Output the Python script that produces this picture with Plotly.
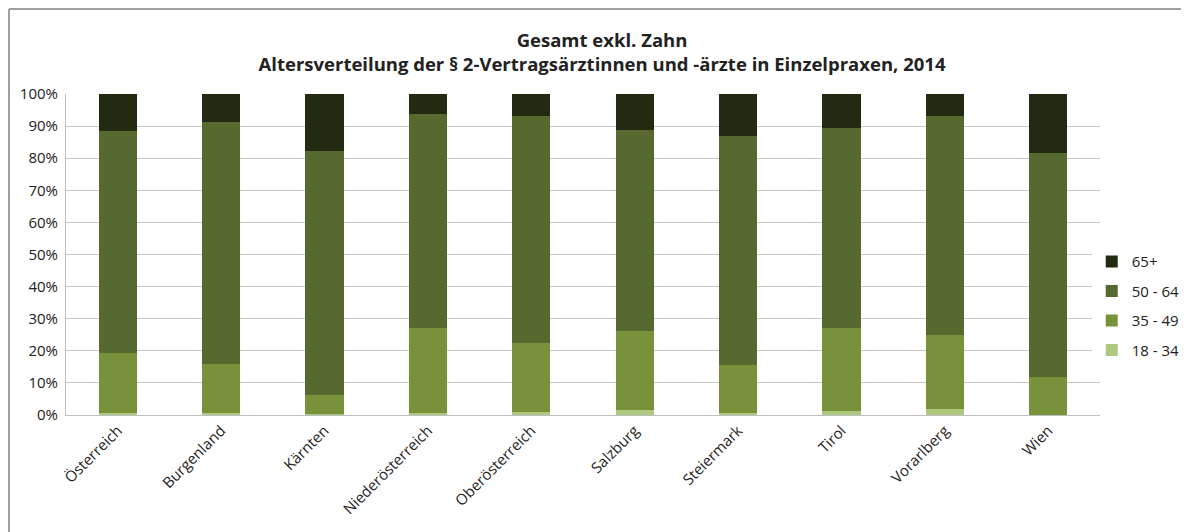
import plotly.graph_objects as go

regions = ["Österreich", "Burgenland", "Kärnten", "Niederösterreich", "Oberösterreich",
           "Salzburg", "Steiermark", "Tirol", "Vorarlberg", "Wien"]

age_18_34 = [0.5, 0.5, 0.2, 0.5, 0.8, 1.5, 0.5, 1.2, 1.8, 0.0]
age_35_49 = [18.7, 15.4, 6.1, 26.5, 21.6, 24.6, 15.1, 25.8, 23.2, 11.7]
age_50_64 = [69.3, 75.5, 76.0, 66.8, 70.7, 62.7, 71.3, 62.5, 68.1, 69.9]
age_65_plus = [11.5, 8.6, 17.7, 6.2, 6.9, 11.2, 13.1, 10.5, 6.9, 18.4]

series = [
    ("18 - 34", age_18_34, "#aec97f"),
    ("35 - 49", age_35_49, "#78923b"),
    ("50 - 64", age_50_64, "#56692e"),
    ("65+", age_65_plus, "#222a12"),
]

fig = go.Figure()
for i, (name, vals, color) in enumerate(series):
    fig.add_trace(go.Bar(
        x=regions, y=[v / 100 for v in vals], name=name, legendgroup=name,
        legendrank=100 - i,
        marker=dict(color=color, line=dict(width=0)),
    ))

# page body has an 8px margin, so the figure is a bit smaller and shifted
W, H = 1181, 524
L, R, T, B = 58, 89, 86, 117
pw, ph = W - L - R, H - T - B

fig.update_layout(
    width=W, height=H,
    barmode="stack", bargap=0.63,
    plot_bgcolor="white", paper_bgcolor="white",
    font=dict(family="Open Sans, Liberation Sans, sans-serif", size=13, color="#333333"),
    title=dict(
        text="<b>Gesamt exkl. Zahn</b><br><b>Altersverteilung der § 2-Vertragsärztinnen und -ärzte in Einzelpraxen, 2014</b>",
        x=0.503, xanchor="center", y=1 - 39 / H, yanchor="middle",
        font=dict(size=18.5, color="#222222"),
    ),
    margin=dict(l=L, r=R, t=T, b=B, autoexpand=False),
    legend=dict(
        x=0.992, xanchor="left", y=0.34, yanchor="middle",
        traceorder="grouped", font=dict(size=15, color="#222222"),
        tracegroupgap=7, itemsizing="constant",
    ),
    xaxis=dict(
        tickangle=-45, showline=True, linecolor="#bfbfbf", automargin=False,
        tickfont=dict(size=15, color="#222222"),
    ),
    yaxis=dict(
        range=[0, 1], dtick=0.1, tickformat=".0%", automargin=False,
        showgrid=True, gridcolor="#c8c8c8", gridwidth=1,
        showline=True, linecolor="#bfbfbf", zeroline=False,
        tickfont=dict(size=15, color="#222222"), ticklabelstandoff=4,
    ),
    shapes=[
        dict(type="line", xref="paper", yref="paper",
             x0=(1 - L) / pw, x1=(1 - L) / pw, y0=-B / ph, y1=1 + (T - 1) / ph,
             line=dict(color="#a0a0a0", width=2)),
        dict(type="line", xref="paper", yref="paper",
             x0=(1 - L) / pw, x1=1 + R / pw, y0=1 + (T - 1) / ph, y1=1 + (T - 1) / ph,
             line=dict(color="#a0a0a0", width=2)),
    ],
)

fig.write_html("out.html")
